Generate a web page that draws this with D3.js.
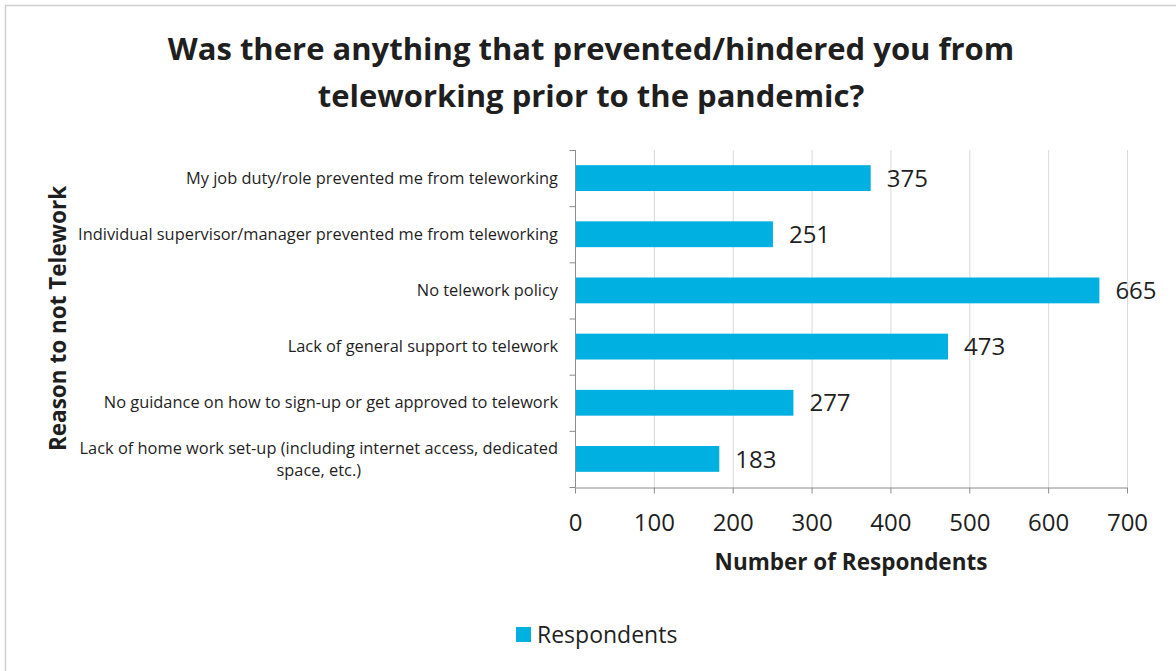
<!DOCTYPE html>
<html>
<head>
<meta charset="utf-8">
<script src="https://cdn.jsdelivr.net/npm/d3@7"></script>
<style>
  html, body { margin: 0; padding: 0; background: #fff; }
  svg { display: block; }
</style>
</head>
<body>
<div id="chart"></div>
<script>
// Reasons and respondent counts, top to bottom
const categories = [
  "My job duty/role prevented me from teleworking",
  "Individual supervisor/manager prevented me from teleworking",
  "No telework policy",
  "Lack of general support to telework",
  "No guidance on how to sign-up or get approved to telework",
  "Lack of home work set-up (including internet access, dedicated space, etc.)",
];
const respondents = [375, 251, 665, 473, 277, 183];
const xTicks = [0, 100, 200, 300, 400, 500, 600, 700];
const titleLines = [
  "Was there anything that prevented/hindered you from",
  "teleworking prior to the pandemic?",
];

const width = 1176;
const height = 671;
const font = "'Open Sans', sans-serif";
const barColor = "#00b0e0";
const textColor = "#1f1f1f";

const marginTop = 150;
const marginRight = 49;
const marginBottom = 184;
const marginLeft = 575;

const data = categories.map((c, i) => ({ label: c, value: respondents[i] }));

const x = d3
  .scaleLinear()
  .domain([0, 700])
  .range([marginLeft, width - marginRight]);

const y = d3
  .scaleBand()
  .domain(categories)
  .range([marginTop, height - marginBottom])
  .paddingInner(0.54)
  .paddingOuter(0.27);

const svg = d3
  .select("#chart")
  .append("svg")
  .attr("width", width)
  .attr("height", height)
  .attr("viewBox", [0, 0, width, height]);

// Frame edges (top and left only, the rest runs off the page)
svg
  .append("path")
  .attr("d", `M5.5,${height}V5.5H${width}`)
  .attr("fill", "none")
  .attr("stroke", "#cfcfcf")
  .attr("stroke-width", 1.5);

// Title
svg
  .append("text")
  .attr("text-anchor", "middle")
  .attr("font-family", font)
  .attr("font-weight", "700")
  .attr("font-size", "31px")
  .attr("fill", textColor)
  .selectAll("tspan")
  .data(titleLines)
  .join("tspan")
  .attr("x", 591)
  .attr("y", (d, i) => 60 + i * 47)
  .text((d) => d);

// Vertical grid lines
svg
  .append("g")
  .selectAll("line")
  .data(xTicks.slice(1))
  .join("line")
  .attr("x1", (d) => x(d) + 0.5)
  .attr("x2", (d) => x(d) + 0.5)
  .attr("y1", y.range()[0])
  .attr("y2", y.range()[1])
  .attr("stroke", "#d9d9d9")
  .attr("stroke-width", 1);

// Bars
svg
  .append("g")
  .selectAll("rect")
  .data(data)
  .join("rect")
  .attr("x", x(0))
  .attr("y", (d) => y(d.label))
  .attr("width", (d) => x(d.value) - x(0))
  .attr("height", y.bandwidth())
  .attr("fill", barColor);

// Value labels
svg
  .append("g")
  .selectAll("text")
  .data(data)
  .join("text")
  .attr("x", (d) => x(d.value) + 16)
  .attr("y", (d) => y(d.label) + y.bandwidth() / 2)
  .attr("dy", "0.36em")
  .attr("font-family", font)
  .attr("font-size", "24px")
  .attr("fill", textColor)
  .text((d) => d.value);

// X axis
svg
  .append("g")
  .attr("transform", `translate(0,${y.range()[1] + 0.5})`)
  .call(d3.axisBottom(x).tickValues(xTicks).tickSize(6).tickSizeOuter(0).tickPadding(20))
  .call((g) => g.select(".domain").attr("stroke", "#8c8c8c"))
  .call((g) => g.selectAll(".tick line").attr("stroke", "#8c8c8c"))
  .call((g) =>
    g
      .selectAll(".tick text")
      .attr("fill", textColor)
      .attr("font-size", "24px")
      .attr("font-family", font),
  );

// Y axis: ticks at band boundaries
const yAxis = svg.append("g").attr("transform", `translate(${marginLeft + 0.5},0)`);
yAxis
  .append("line")
  .attr("y1", y.range()[0])
  .attr("y2", y.range()[1])
  .attr("stroke", "#8c8c8c");
yAxis
  .selectAll(".bound")
  .data(d3.range(categories.length + 1))
  .join("line")
  .attr("class", "bound")
  .attr("x1", -6)
  .attr("x2", 0)
  .attr("y1", (i) => y.range()[0] + i * y.step() + 0.5)
  .attr("y2", (i) => y.range()[0] + i * y.step() + 0.5)
  .attr("stroke", "#8c8c8c");

// Category labels (wrap the long one onto two centred lines)
const labelRight = 558;
const maxLabelWidth = 492;
const labels = svg
  .append("g")
  .attr("font-family", font)
  .attr("font-size", "16.4px")
  .attr("fill", textColor);

data.forEach((d) => {
  const cy = y(d.label) + y.bandwidth() / 2;
  const t = labels
    .append("text")
    .attr("x", labelRight)
    .attr("y", cy)
    .attr("dy", "0.35em")
    .attr("text-anchor", "end")
    .text(d.label);
  if (t.node().getComputedTextLength() > maxLabelWidth) {
    const words = d.label.split(" ");
    let line1 = [];
    let rest = [];
    for (let i = 0; i < words.length; i++) {
      t.text(words.slice(0, i + 1).join(" "));
      if (t.node().getComputedTextLength() > maxLabelWidth) {
        line1 = words.slice(0, i);
        rest = words.slice(i);
        break;
      }
    }
    t.text(line1.join(" ")).attr("y", cy - 11);
    const w1 = t.node().getComputedTextLength();
    labels
      .append("text")
      .attr("x", labelRight - w1 / 2)
      .attr("y", cy + 11)
      .attr("dy", "0.35em")
      .attr("text-anchor", "middle")
      .text(rest.join(" "));
  }
});

// Axis titles
svg
  .append("text")
  .attr("x", (x(0) + x(700)) / 2)
  .attr("y", 570)
  .attr("text-anchor", "middle")
  .attr("font-family", font)
  .attr("font-weight", "700")
  .attr("font-size", "22.5px")
  .attr("fill", textColor)
  .text("Number of Respondents");

svg
  .append("text")
  .attr("transform", `translate(66,${(y.range()[0] + y.range()[1]) / 2}) rotate(-90)`)
  .attr("text-anchor", "middle")
  .attr("font-family", font)
  .attr("font-weight", "700")
  .attr("font-size", "22.5px")
  .attr("fill", textColor)
  .text("Reason to not Telework");

// Legend
const legend = svg.append("g").attr("transform", "translate(516,627)");
legend
  .append("rect")
  .attr("width", 15)
  .attr("height", 15)
  .attr("fill", barColor);
legend
  .append("text")
  .attr("x", 21)
  .attr("y", 8)
  .attr("dy", "0.36em")
  .attr("font-family", font)
  .attr("font-size", "23px")
  .attr("fill", textColor)
  .text("Respondents");
</script>
</body>
</html>
